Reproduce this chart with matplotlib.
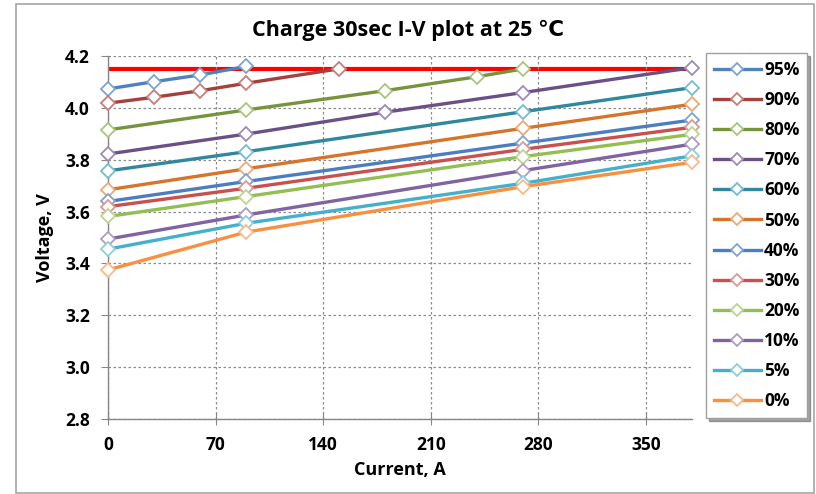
import matplotlib.pyplot as plt
from matplotlib.patches import Rectangle

plt.rcParams['font.family'] = ['Open Sans', 'DejaVu Sans']

labels = ['95%', '90%', '80%', '70%', '60%', '50%', '40%', '30%', '20%', '10%', '5%', '0%']
colors = ['#4F81BD', '#A5403D', '#77933C', '#6A5085', '#31879E', '#D5742A',
          '#4A7EC0', '#C8504D', '#93BE52', '#8064A2', '#46AFCB', '#F8903F']
marker_edges = ['#7FA3D0', '#C77F7C', '#A9C47E', '#9E8BB8', '#74BDD0', '#EBAA78',
                '#7FA3D0', '#DE9896', '#BCD68F', '#AE9CC6', '#8ACFE0', '#FAB888']

current = {
    '95%': [0, 30, 60, 90],
    '90%': [0, 30, 60, 90, 150],
    '80%': [0, 90, 180, 240, 270],
    '70%': [0, 90, 180, 270, 380],
    '60%': [0, 90, 270, 380],
    '50%': [0, 90, 270, 380],
    '40%': [0, 90, 270, 380],
    '30%': [0, 90, 270, 380],
    '20%': [0, 90, 270, 380],
    '10%': [0, 90, 270, 380],
    '5%': [0, 90, 270, 380],
    '0%': [0, 90, 270, 380],
}
voltage = {
    '95%': [4.073, 4.101, 4.127, 4.160],
    '90%': [4.018, 4.041, 4.066, 4.095, 4.150],
    '80%': [3.915, 3.992, 4.066, 4.120, 4.150],
    '70%': [3.822, 3.899, 3.983, 4.059, 4.155],
    '60%': [3.757, 3.831, 3.985, 4.078],
    '50%': [3.684, 3.765, 3.921, 4.014],
    '40%': [3.639, 3.716, 3.864, 3.953],
    '30%': [3.619, 3.690, 3.840, 3.925],
    '20%': [3.581, 3.658, 3.812, 3.898],
    '10%': [3.494, 3.587, 3.758, 3.860],
    '5%': [3.455, 3.555, 3.709, 3.815],
    '0%': [3.375, 3.521, 3.696, 3.790],
}
limit_current = [0, 380]
limit_voltage = [4.15, 4.15]

fig = plt.figure(figsize=(8.16, 4.94), dpi=100)
ax = fig.add_axes([108/816, 1 - 419/494, (692-108)/816, (419-56)/494])

ax.plot(limit_current, limit_voltage, color='#FF0000', lw=3, zorder=1)
for lab, c, me in zip(labels, colors, marker_edges):
    ax.plot(current[lab], voltage[lab], color=c, lw=2.4, marker='D', markersize=7,
            markerfacecolor='white', markeredgecolor=me, markeredgewidth=1.3,
            label=lab, zorder=3, clip_on=False)

ax.set_xlim(0, 380)
ax.set_ylim(2.8, 4.2)
ax.set_xticks([0, 70, 140, 210, 280, 350])
ax.set_yticks([2.8, 3.0, 3.2, 3.4, 3.6, 3.8, 4.0, 4.2])
ax.set_yticklabels(['2.8', '3.0', '3.2', '3.4', '3.6', '3.8', '4.0', '4.2'])
ax.grid(True, color='#8C8C8C', linestyle=(0, (2, 2)), lw=0.9)
for s in ['top', 'right']:
    ax.spines[s].set_visible(False)
for s in ['left', 'bottom']:
    ax.spines[s].set_color('#868686')
    ax.spines[s].set_linewidth(1.0)
ax.tick_params(axis='x', direction='inout', length=8, color='#868686', pad=8)
ax.tick_params(axis='y', direction='out', length=5, color='#868686', pad=8)
for t in ax.get_xticklabels() + ax.get_yticklabels():
    t.set_fontweight('bold')
    t.set_fontsize(12.5)

ax.set_xlabel('Current, A', fontsize=13, fontweight='bold', labelpad=5)
ax.set_ylabel('Voltage, V', fontsize=13, fontweight='bold', labelpad=8)
fig.text(0.5, 1 - 30/494, 'Charge 30sec I-V plot at 25 ℃', ha='center', va='center',
         fontsize=15.5, fontweight='bold')

leg = fig.legend(loc='upper left', bbox_to_anchor=(706/816, 1 - 53/494),
                 frameon=True, shadow=True, fancybox=False, fontsize=12.5,
                 labelspacing=0.7, handlelength=2.7, handletextpad=0.2,
                 borderpad=0.45, borderaxespad=0, markerscale=0.85)
leg.get_frame().set_edgecolor('#A0A0A0')
for t in leg.get_texts():
    t.set_fontweight('bold')

fig.patches.append(Rectangle((16/816, 1/494), 798/816, 489/494, transform=fig.transFigure,
                             fill=False, edgecolor='#A6A6A6', lw=1.2))

fig.savefig('out.png', dpi=100)
